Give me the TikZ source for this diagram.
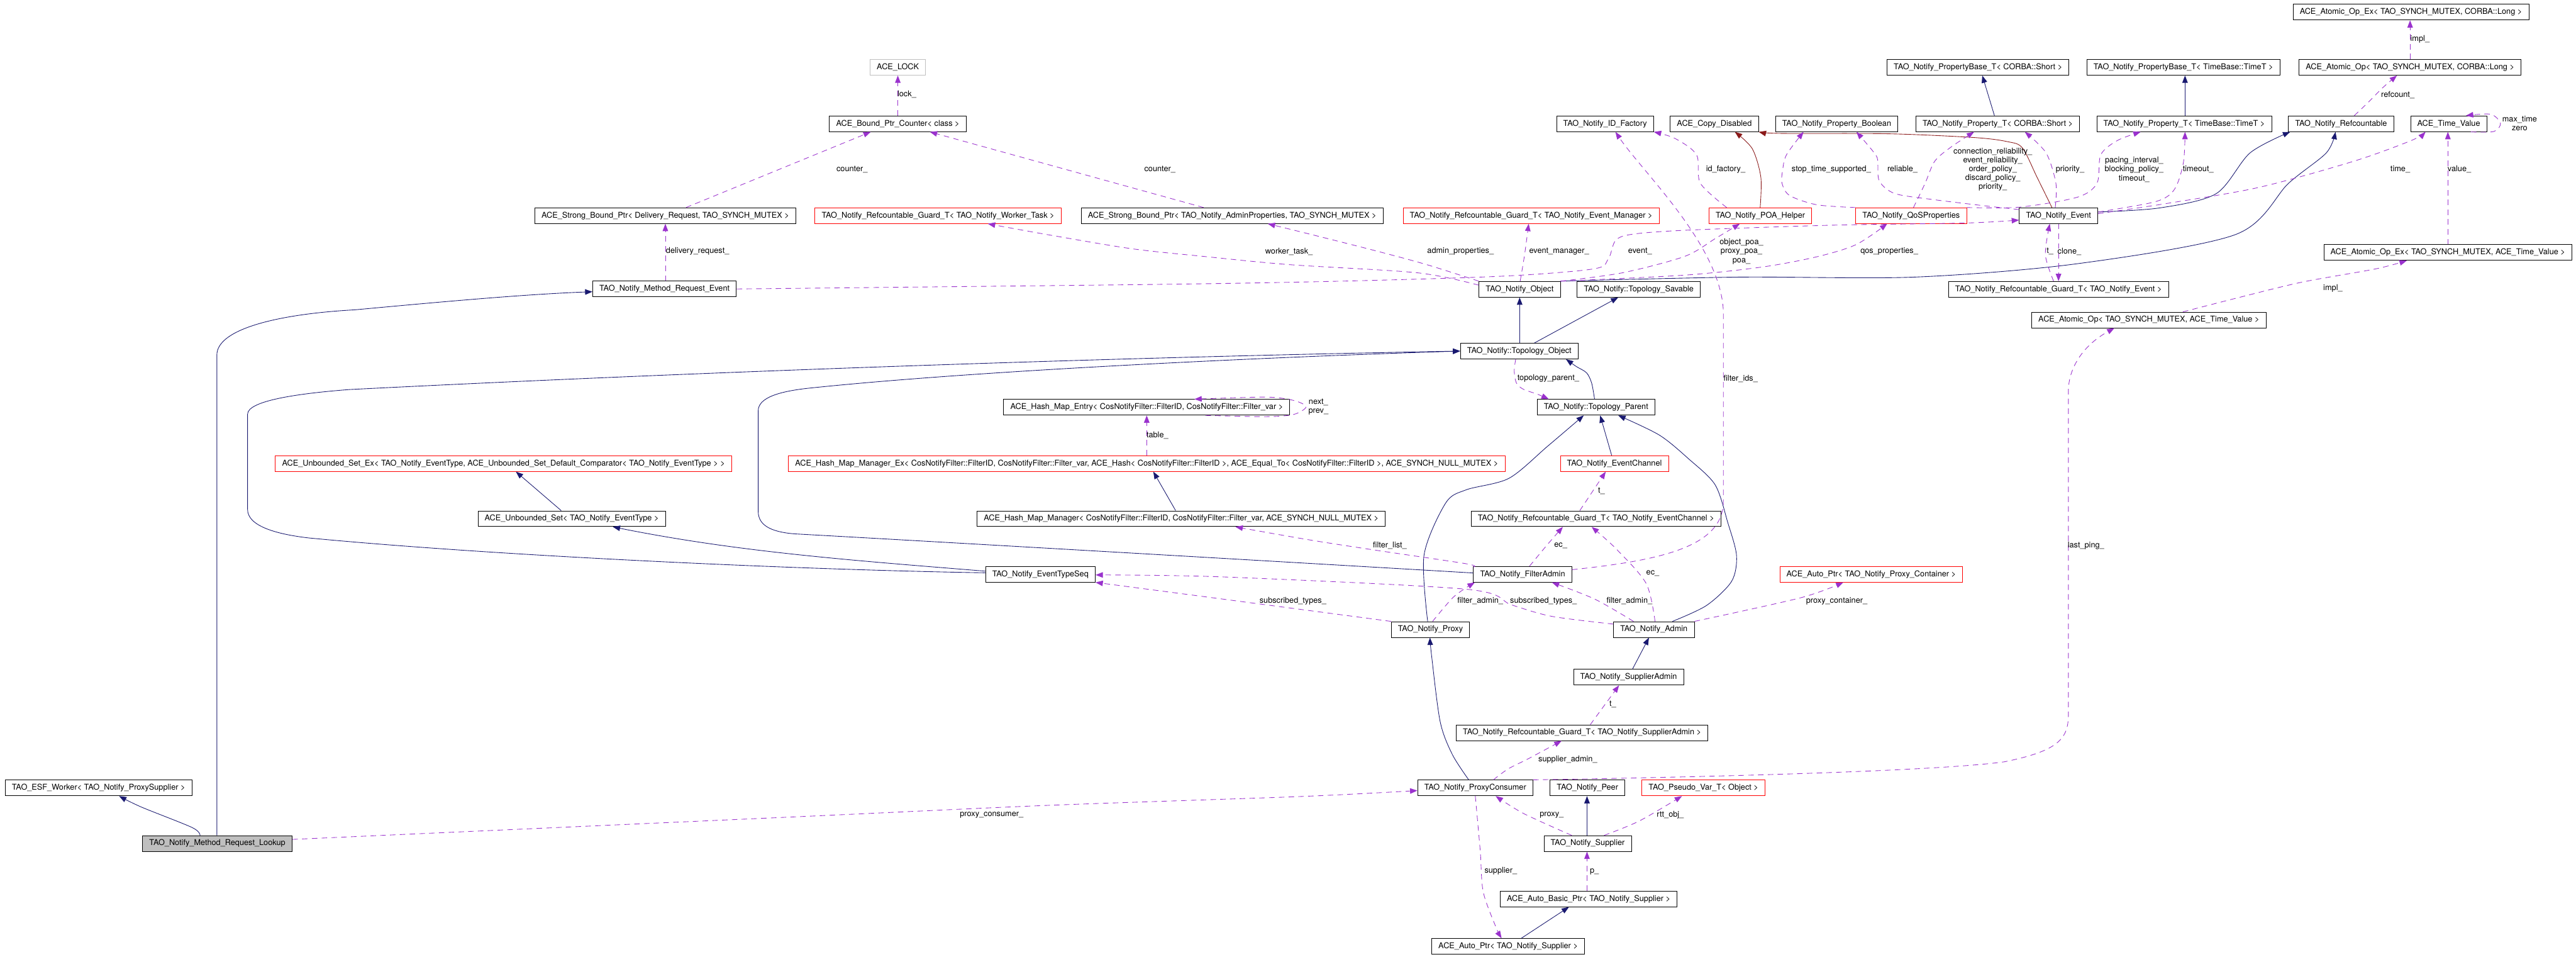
\documentclass[tikz,border=0pt]{standalone}
\usepackage{fontspec}
\setmainfont{TeX Gyre Heros}
\usetikzlibrary{arrows.meta}
\definecolor{inhcol}{HTML}{191970}
\definecolor{privcol}{HTML}{8B1A1A}
\definecolor{usecol}{HTML}{9A32CD}

\begin{document}
\begin{tikzpicture}[x=2.689pt, y=-2.689pt,
    clsbox/.style={draw=black, fill=white, line width=0.9pt, font=\fontsize{13.1}{14.6}\selectfont, inner xsep=11pt, inner ysep=0pt, minimum height=25.7pt},
    redbox/.style={clsbox, draw=red},
    graybox/.style={clsbox, draw=gray!50},
    lbltext/.style={font=\fontsize{13.1}{14.6}\selectfont, inner sep=0pt, align=center},
    inhline/.style={draw=inhcol, line width=0.9pt, -{Triangle[length=12pt,width=9pt]}},
    privline/.style={draw=privcol, line width=0.9pt, -{Triangle[length=12pt,width=9pt]}},
    usedash/.style={draw=usecol, line width=0.9pt, dash pattern=on 9pt off 7pt, -{Triangle[length=12pt,width=9pt]}}]
    \useasboundingbox (0,0) rectangle (1568,582);
    \fill[white] (0,0) rectangle (1568,582);

    \node[clsbox] (aopexlong) at (1467.5,7.4) {ACE\_Atomic\_Op\_Ex< TAO\_SYNCH\_MUTEX, CORBA::Long >};
    \node[graybox] (lock) at (546.5,41) {ACE\_LOCK};
    \node[clsbox] (pbshort) at (1204,41) {TAO\_Notify\_PropertyBase\_T< CORBA::Short >};
    \node[clsbox] (pbtime) at (1329,41) {TAO\_Notify\_PropertyBase\_T< TimeBase::TimeT >};
    \node[clsbox] (aoplong) at (1467,41) {ACE\_Atomic\_Op< TAO\_SYNCH\_MUTEX, CORBA::Long >};
    \node[clsbox] (counter) at (546.5,75.3) {ACE\_Bound\_Ptr\_Counter< class >};
    \node[clsbox] (idfact) at (977,75.3) {TAO\_Notify\_ID\_Factory};
    \node[clsbox] (copydis) at (1043.5,75.3) {ACE\_Copy\_Disabled};
    \node[clsbox] (propbool) at (1118,75.3) {TAO\_Notify\_Property\_Boolean};
    \node[clsbox] (propshort) at (1216,75.3) {TAO\_Notify\_Property\_T< CORBA::Short >};
    \node[clsbox] (proptime) at (1329.5,75.3) {TAO\_Notify\_Property\_T< TimeBase::TimeT >};
    \node[clsbox] (refcnt) at (1425,75.3) {TAO\_Notify\_Refcountable};
    \node[clsbox] (timeval) at (1490.5,75.3) {ACE\_Time\_Value};
    \node[clsbox] (sbpdel) at (405,131.2) {ACE\_Strong\_Bound\_Ptr< Delivery\_Request, TAO\_SYNCH\_MUTEX >};
    \node[redbox] (guardwt) at (571,131.2) {TAO\_Notify\_Refcountable\_Guard\_T< TAO\_Notify\_Worker\_Task >};
    \node[clsbox] (sbpadm) at (750,131.2) {ACE\_Strong\_Bound\_Ptr< TAO\_Notify\_AdminProperties, TAO\_SYNCH\_MUTEX >};
    \node[redbox] (guardem) at (932,131.2) {TAO\_Notify\_Refcountable\_Guard\_T< TAO\_Notify\_Event\_Manager >};
    \node[redbox] (poahelp) at (1071.5,131.2) {TAO\_Notify\_POA\_Helper};
    \node[redbox] (qos) at (1163.3,131.2) {TAO\_Notify\_QoSProperties};
    \node[clsbox] (event) at (1253,131.2) {TAO\_Notify\_Event};
    \node[clsbox] (aopextv) at (1490,153.6) {ACE\_Atomic\_Op\_Ex< TAO\_SYNCH\_MUTEX, ACE\_Time\_Value >};
    \node[clsbox] (mre) at (404.5,175.8) {TAO\_Notify\_Method\_Request\_Event};
    \node[clsbox] (obj) at (925,176) {TAO\_Notify\_Object};
    \node[clsbox] (savable) at (997.5,176) {TAO\_Notify::Topology\_Savable};
    \node[clsbox] (guardev) at (1253,176) {TAO\_Notify\_Refcountable\_Guard\_T< TAO\_Notify\_Event >};
    \node[clsbox] (aoptv) at (1308,194.7) {ACE\_Atomic\_Op< TAO\_SYNCH\_MUTEX, ACE\_Time\_Value >};
    \node[clsbox] (topoobj) at (924.8,213.6) {TAO\_Notify::Topology\_Object};
    \node[clsbox] (hmentry) at (698,247.8) {ACE\_Hash\_Map\_Entry< CosNotifyFilter::FilterID, CosNotifyFilter::Filter\_var >};
    \node[clsbox] (topopar) at (971.5,247.8) {TAO\_Notify::Topology\_Parent};
    \node[redbox] (usetex) at (306.5,282) {ACE\_Unbounded\_Set\_Ex< TAO\_Notify\_EventType, ACE\_Unbounded\_Set\_Default\_Comparator< TAO\_Notify\_EventType > >};
    \node[redbox] (hmmex) at (698,282) {ACE\_Hash\_Map\_Manager\_Ex< CosNotifyFilter::FilterID, CosNotifyFilter::Filter\_var, ACE\_Hash< CosNotifyFilter::FilterID >, ACE\_Equal\_To< CosNotifyFilter::FilterID >, ACE\_SYNCH\_NULL\_MUTEX >};
    \node[redbox] (evchan) at (982.7,282) {TAO\_Notify\_EventChannel};
    \node[clsbox] (uset) at (348,315.6) {ACE\_Unbounded\_Set< TAO\_Notify\_EventType >};
    \node[clsbox] (hmm) at (719,315.6) {ACE\_Hash\_Map\_Manager< CosNotifyFilter::FilterID, CosNotifyFilter::Filter\_var, ACE\_SYNCH\_NULL\_MUTEX >};
    \node[clsbox] (guardec) at (971.5,315.6) {TAO\_Notify\_Refcountable\_Guard\_T< TAO\_Notify\_EventChannel >};
    \node[clsbox] (evtseq) at (633.3,349.4) {TAO\_Notify\_EventTypeSeq};
    \node[clsbox] (fadmin) at (926.8,349.4) {TAO\_Notify\_FilterAdmin};
    \node[redbox] (autopc) at (1139,349.4) {ACE\_Auto\_Ptr< TAO\_Notify\_Proxy\_Container >};
    \node[clsbox] (proxy) at (870.7,383) {TAO\_Notify\_Proxy};
    \node[clsbox] (admin) at (1006.7,383) {TAO\_Notify\_Admin};
    \node[clsbox] (supadmin) at (991.3,412) {TAO\_Notify\_SupplierAdmin};
    \node[clsbox] (guardsa) at (963,445.8) {TAO\_Notify\_Refcountable\_Guard\_T< TAO\_Notify\_SupplierAdmin >};
    \node[clsbox] (esf) at (60,479.4) {TAO\_ESF\_Worker< TAO\_Notify\_ProxySupplier >};
    \node[clsbox] (pcons) at (898,479.4) {TAO\_Notify\_ProxyConsumer};
    \node[clsbox] (peer) at (966.3,479.4) {TAO\_Notify\_Peer};
    \node[redbox] (pseudo) at (1036.9,479.4) {TAO\_Pseudo\_Var\_T< Object >};
    \node[clsbox, fill=gray!50] (lookup) at (132.3,513.2) {TAO\_Notify\_Method\_Request\_Lookup};
    \node[clsbox] (supplier) at (966.4,513.2) {TAO\_Notify\_Supplier};
    \node[clsbox] (abptr) at (967,546.9) {ACE\_Auto\_Basic\_Ptr< TAO\_Notify\_Supplier >};
    \node[clsbox] (aptr) at (918,575.8) {ACE\_Auto\_Ptr< TAO\_Notify\_Supplier >};

    \draw[inhline] plot[smooth] coordinates {(lookup.north -| 121.8,0) (117,503.5) (86,491) (esf.south -| 72.5,0)};
    \draw[inhline] (lookup.north -| 132,0) -- (132,216) .. controls (132,200) and (170,191) .. (216,188.5) .. controls (270,183.5) and (320,179) .. (mre.west |- 0,177.5);
    \draw[inhline] plot[smooth] coordinates {(obj.north east) (1058,168.6) (1165,168.6) (1264,160.5) (1361,142.6) (1393,111.5) (1416,93) (refcnt.south -| 1421.6,0)};
    \draw[inhline] plot[smooth] coordinates {(event.east |- 0,129) (1314.6,126.5) (1349,117.8) (1369.6,93) (refcnt.south -| 1394,0)};
    \draw[inhline] (topoobj.north -| 925,0) -- (obj.south -| 925,0);
    \draw[inhline] (topoobj.north -| 934,0) -- (savable.south -| 985,0);
    \draw[inhline] plot[smooth] coordinates {(topopar.north -| 970.6,0) (968.8,233) (965.7,226.8) (959.5,223) (topoobj.south -| 953.2,0)};
    \draw[inhline] (evtseq.west |- 0,348.5) .. controls (480,346.5) and (300,338) .. (188,327.3) .. controls (168,325) and (150.7,320) .. (150.7,310) -- (150.7,252) .. controls (150.7,244) and (180,239.5) .. (212.7,237) .. controls (450,225) and (700,217) .. (topoobj.west);
    \draw[inhline] (evtseq.west |- 0,347.5) .. controls (520,341) and (450,336) .. (uset.south -| 373,0);
    \draw[inhline] (fadmin.west |- 0,348.6) .. controls (750,340) and (560,329) .. (483.5,324.8) .. controls (468,323.5) and (461.5,319) .. (461.5,311) -- (461.5,250) .. controls (461.5,242) and (474,238) .. (494,236) .. controls (600,225) and (780,217) .. (topoobj.west);
    \draw[inhline] (uset.north -| 341.6,0) -- (usetex.south -| 314,0);
    \draw[inhline] (hmm.north -| 715.6,0) -- (hmmex.south -| 702,0);
    \draw[inhline] plot[smooth] coordinates {(proxy.north -| 869,0) (866.8,337.7) (880,306) (892.5,298) (918.5,291) (942,271.5) (topopar.south -| 964,0)};
    \draw[inhline] (evchan.north -| 981,0) -- (topopar.south -| 974,0);
    \draw[inhline] plot[smooth] coordinates {(admin.north -| 1018,0) (1038.7,368.4) (1054,353.7) (1057,338) (1051.7,318) (1044,295) (1028,279.3) (1010,264.7) (topopar.south -| 985,0)};
    \draw[inhline] (supadmin.north -| 993.7,0) -- (admin.south -| 1003.7,0);
    \draw[inhline] plot[smooth] coordinates {(pcons.north -| 894,0) (884,459) (876.6,439) (871.4,399) (proxy.south -| 870.4,0)};
    \draw[inhline] (supplier.north -| 966,0) -- (peer.south -| 966,0);
    \draw[inhline] (aptr.north -| 926,0) -- (abptr.south -| 955,0);
    \draw[inhline] (propshort.north -| 1214,0) -- (pbshort.south -| 1206.6,0);
    \draw[inhline] (proptime.north -| 1330,0) -- (pbtime.south -| 1330,0);

    \draw[privline] plot[smooth] coordinates {(poahelp.north -| 1071.4,0) (1071.8,107.8) (1066.6,90.5) (copydis.south -| 1056,0)};
    \draw[privline] plot[smooth] coordinates {(event.north -| 1249,0) (1240,108) (1231,90) (1222,86.2) (1202,83.7) (1150,81.4) (1085,81.2) (copydis.south east)};

    \draw[usedash] (counter.north) -- (lock.south);
    \draw[usedash] (sbpdel.north -| 417.6,0) -- (counter.south -| 530,0);
    \draw[usedash] (sbpadm.north -| 732.6,0) -- (counter.south -| 566,0);
    \draw[usedash] (mre.north -| 405,0) -- (sbpdel.south -| 405,0);
    \draw[usedash] plot[smooth] coordinates {(mre.east |- 0,175.8) (706.6,173) (819,171) (915,168) (970,163.6) (979,157.4) (983.4,146.3) (993.7,142.5) (1027.6,140) (1115.7,137) (1196,135.7) (event.west |- 0,133.9)};
    \draw[usedash] plot[smooth] coordinates {(obj.west |- 0,173.5) (863,166) (784.7,161) (732.6,156) (688.7,151.3) (636.7,142.6) (guardwt.south -| 601.3,0)};
    \draw[usedash] plot[smooth] coordinates {(obj.north west) (868.4,161) (837,152.5) (797.9,142.6) (sbpadm.south -| 771.7,0)};
    \draw[usedash] plot[smooth] coordinates {(obj.north -| 925.3,0) (928,155) (guardem.south -| 930.5,0)};
    \draw[usedash] plot[smooth] coordinates {(obj.north east) (987.4,166) (1025.4,156) (1044.3,145) (poahelp.south -| 1059,0)};
    \draw[usedash] plot[smooth] coordinates {(obj.north east) (1025.4,167.4) (1073,162.4) (1106,156.2) (1129.8,148.8) (qos.south -| 1148.7,0)};
    \draw[usedash] (fadmin.east |- 0,346.6) .. controls (1010,341) and (1049,333) .. (1049,305) -- (1049,190) .. controls (1048,150) and (1000,105) .. (idfact.south -| 983.3,0);
    \draw[usedash] plot[smooth] coordinates {(poahelp.north -| 1051,0) (1035,111.5) (1032.7,94.2) (1019.7,84.3) (idfact.south -| 1006.7,0)};
    \draw[usedash] plot[smooth] coordinates {(qos.north west) (1106,124.6) (1089.4,119) (1084.7,111.6) (1085,104) (1087.4,94.2) (propbool.south -| 1097.8,0)};
    \draw[usedash] plot[smooth] coordinates {(event.west |- 0,127.5) (1208,125.2) (1177.3,121.5) (1153.5,117.8) (1144,110.3) (1143,100) (1141.7,94.2) (propbool.south -| 1130,0)};
    \draw[usedash] plot[smooth] coordinates {(qos.north -| 1164.7,0) (1171.8,111.5) (1177.7,98) (1187.8,89.3) (propshort.south -| 1201.6,0)};
    \draw[usedash] plot[smooth] coordinates {(event.north -| 1251,0) (1251.4,111.5) (1245.4,93) (propshort.south -| 1232.5,0)};
    \draw[usedash] plot[smooth] coordinates {(qos.north east) (1229.4,126) (1264.4,120) (1276.4,111.5) (1278.7,94.2) (1288.8,85.5) (proptime.south -| 1303,0)};
    \draw[usedash] plot[smooth] coordinates {(event.east |- 0,129) (1312,122.7) (1323.5,115.3) (1329,99) (proptime.south -| 1330,0)};
    \draw[usedash] plot[smooth] coordinates {(event.east |- 0,130) (1317.6,124) (1375,114) (1433,98) (1467.7,85.5) (timeval.south -| 1476.4,0)};
    \draw[usedash] (aopextv.north -| 1490,0) -- (timeval.south -| 1490,0);
    \draw[usedash] plot[smooth] coordinates {(timeval.south -| 1504,0) (1518,80) (1522,75) (1516,69.5) (timeval.north -| 1501,0)};
    \draw[usedash] plot[smooth] coordinates {(aoptv.north -| 1328.7,0) (1362.8,181) (1401,171.7) (1446,163.6) (aopextv.south -| 1465,0)};
    \draw[usedash] (aoplong.north -| 1467,0) -- (aopexlong.south -| 1467,0);
    \draw[usedash] plot[smooth] coordinates {(refcnt.north -| 1433,0) (1441.8,62) (1450.4,53.3) (aoplong.south -| 1459,0)};
    \draw[usedash] plot[smooth] coordinates {(guardev.north -| 1250,0) (1245,155) (event.south -| 1247.7,0)};
    \draw[usedash] (event.south -| 1253,0) -- (guardev.north -| 1253,0);
    \draw[usedash] (hmmex.north -| 698,0) -- (hmentry.south -| 698,0);
    \draw[usedash] plot[smooth] coordinates {(hmentry.south -| 733.7,0) (770.4,253.5) (787.3,252.2) (795,247.5) (787.3,243.6) (770.4,241.6) (hmentry.north -| 727,0)};
    \draw[usedash] plot[smooth] coordinates {(fadmin.west |- 0,345) (892.5,343) (835.7,334.5) (796.6,328.4) (hmm.south -| 752,0)};
    \draw[usedash] plot[smooth] coordinates {(proxy.north west) (744.3,364.5) (evtseq.south east)};
    \draw[usedash] plot[smooth] coordinates {(admin.west |- 0,379.7) (944.6,375) (920,368) (892.5,358.5) (744.3,351) (evtseq.east |- 0,349.8)};
    \draw[usedash] plot[smooth] coordinates {(admin.north -| 994.3,0) (970.7,364.5) (fadmin.south -| 944.6,0)};
    \draw[usedash] plot[smooth] coordinates {(proxy.north -| 872,0) (885,363) (fadmin.south -| 897.7,0)};
    \draw[usedash] plot[smooth] coordinates {(fadmin.north -| 931,0) (942,331.2) (guardec.south -| 951.3,0)};
    \draw[usedash] plot[smooth] coordinates {(admin.north -| 1007.4,0) (1002,355) (983.8,334) (guardec.south -| 968.8,0)};
    \draw[usedash] (guardec.north -| 961.6,0) -- (evchan.south -| 977.4,0);
    \draw[usedash] plot[smooth] coordinates {(topoobj.south -| 922.6,0) (921.7,225.6) (923,233) (927.2,236.8) (936,239.9) (topopar.north -| 942.7,0)};
    \draw[usedash] plot[smooth] coordinates {(admin.north east) (1096,363.7) (autopc.south -| 1122,0)};
    \draw[usedash] (guardsa.north -| 968,0) -- (supadmin.south -| 985.5,0);
    \draw[usedash] plot[smooth] coordinates {(pcons.north -| 909,0) (918,467.8) (930.5,461.5) (guardsa.south -| 950.5,0)};
    \draw[usedash] plot[smooth] coordinates {(supplier.north -| 956.7,0) (927.5,495) (pcons.south -| 910.4,0)};
    \draw[usedash] plot[smooth] coordinates {(pcons.south -| 898,0) (901,517.6) (902.8,542.5) (910.4,563.7) (aptr.north -| 914,0)};
    \draw[usedash] (abptr.north -| 966,0) -- (supplier.south -| 966,0);
    \draw[usedash] plot[smooth] coordinates {(supplier.north -| 976.4,0) (997.8,499.5) (pseudo.south -| 1023.8,0)};
    \draw[usedash] (pcons.north east) .. controls (1050,472.6) and (1180,469) .. (1220,463.5) .. controls (1252,457) and (1259,450) .. (1259,435) -- (1259,238) .. controls (1259,224) and (1268,210) .. (aoptv.south -| 1287,0);
    \draw[usedash] plot[smooth] coordinates {(lookup.east |- 0,510.7) (483.5,497) (637.6,490) (791.8,484.6) (pcons.west |- 0,481)};

    \node[lbltext] (llock) at (552,57.6) {lock\_};
    \node[lbltext] (lcnta) at (518.6,103) {counter\_};
    \node[lbltext] (lcntb) at (706,103) {counter\_};
    \node[lbltext] (ldel) at (424.6,153) {delivery\_request\_};
    \node[lbltext] (lwt) at (784.6,153) {worker\_task\_};
    \node[lbltext] (ladm) at (889,153) {admin\_properties\_};
    \node[lbltext] (lem) at (949,153) {event\_manager\_};
    \node[lbltext] (lev) at (998.3,153) {event\_};
    \node[lbltext] (lpoa) at (1060,153) {object\_poa\_\\proxy\_poa\_\\poa\_};
    \node[lbltext] (lqos) at (1150,153) {qos\_properties\_};
    \node[lbltext] (lidf) at (1050.4,103) {id\_factory\_};
    \node[lbltext] (lfid) at (1059.5,230.3) {filter\_ids\_};
    \node[lbltext] (lstop) at (1114.7,103) {stop\_time\_supported\_};
    \node[lbltext] (lrel) at (1158,103) {reliable\_};
    \node[lbltext] (lconn) at (1213,103.1) {connection\_reliability\_\\event\_reliability\_\\order\_policy\_\\discard\_policy\_\\priority\_};
    \node[lbltext] (lpri) at (1260,103) {priority\_};
    \node[lbltext] (lpace) at (1299,103.1) {pacing\_interval\_\\blocking\_policy\_\\timeout\_};
    \node[lbltext] (ltmo) at (1338,103) {timeout\_};
    \node[lbltext] (ltime) at (1461,103) {time\_};
    \node[lbltext] (lval) at (1497,103) {value\_};
    \node[lbltext] (lmax) at (1533.7,75.2) {max\_time\\zero};
    \node[lbltext] (limpla) at (1473,23.8) {impl\_};
    \node[lbltext] (lref) at (1459.5,57.6) {refcount\_};
    \node[lbltext] (limplb) at (1420,175.6) {impl\_};
    \node[lbltext] (lta) at (1247.8,153) {t\_};
    \node[lbltext] (lclone) at (1259.6,153) {clone\_};
    \node[lbltext] (ltable) at (704.5,265) {table\_};
    \node[lbltext] (lnext) at (802.5,247.6) {next\_\\prev\_};
    \node[lbltext] (lflist) at (846,331.7) {filter\_list\_};
    \node[lbltext] (lsuba) at (787,365.6) {subscribed\_types\_};
    \node[lbltext] (lsubb) at (939.5,365.6) {subscribed\_types\_};
    \node[lbltext] (lfaa) at (901,365.6) {filter\_admin\_};
    \node[lbltext] (lfab) at (991.8,365.6) {filter\_admin\_};
    \node[lbltext] (leca) at (950,332) {ec\_};
    \node[lbltext] (lecb) at (1006,349) {ec\_};
    \node[lbltext] (ltb) at (974.8,298.7) {t\_};
    \node[lbltext] (ltp) at (942.4,230.3) {topology\_parent\_};
    \node[lbltext] (lpc) at (1118,365.6) {proxy\_container\_};
    \node[lbltext] (lping) at (1269.7,332) {last\_ping\_};
    \node[lbltext] (ltc) at (981.7,428.4) {t\_};
    \node[lbltext] (lsa) at (954.3,462) {supplier\_admin\_};
    \node[lbltext] (lproxy) at (944.5,496) {proxy\_};
    \node[lbltext] (lsup) at (913.5,529.8) {supplier\_};
    \node[lbltext] (lp) at (970.5,530.3) {p\_};
    \node[lbltext] (lrtt) at (1016.7,495.8) {rtt\_obj\_};
    \node[lbltext] (lpcons) at (603.6,496) {proxy\_consumer\_};
\end{tikzpicture}
\end{document}
